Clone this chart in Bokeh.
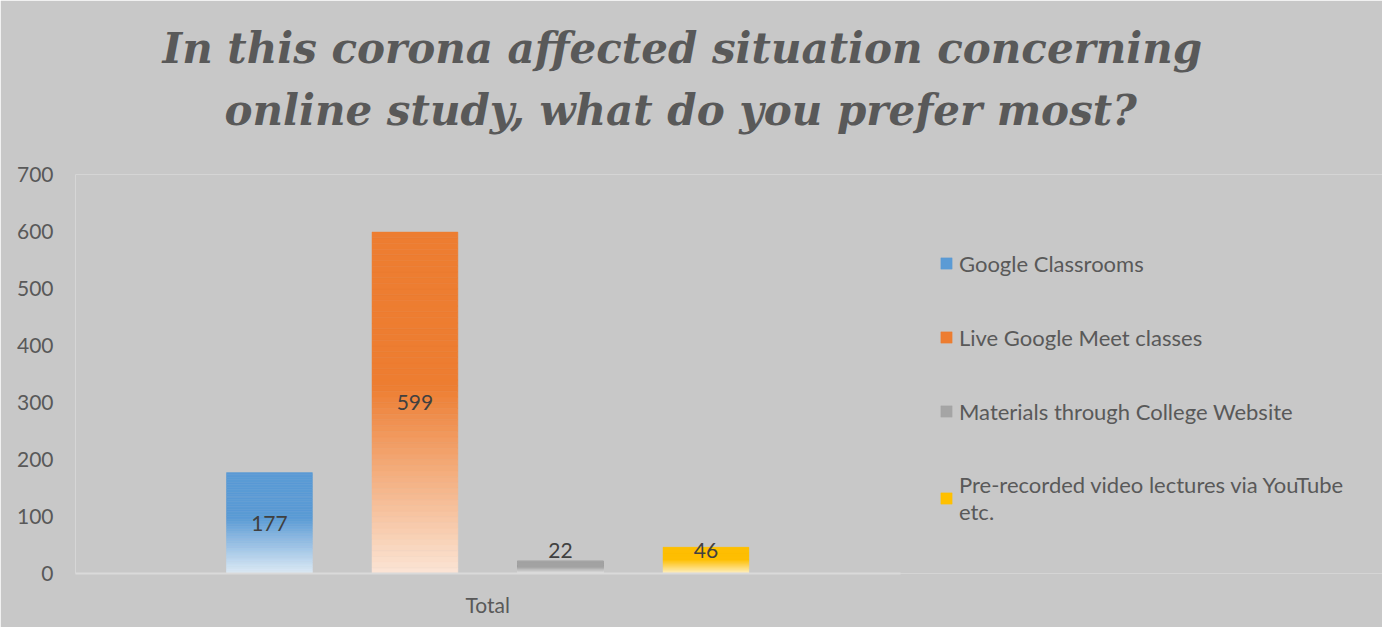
import numpy as np
from bokeh.plotting import figure
from bokeh.models import (Range1d, ColumnDataSource, Legend, LegendItem, Title,
                          FixedTicker, LinearAxis, LabelSet)
from bokeh.embed import file_html
from bokeh.resources import INLINE
from bokeh.core.properties import value

# ---------------- data ----------------
category = "Total"
series = ["Google Classrooms",
          "Live Google Meet classes",
          "Materials through College Website",
          "Pre-recorded video lectures via YouTube\netc."]
values = [177, 599, 22, 46]
colors = ["#5b9bd5", "#ed7d31", "#a5a5a5", "#ffc000"]
light_colors = ["#deebf7", "#fbe5d6", "#ededed", "#fff2cc"]
title_lines = ["In this corona affected situation concerning",
               "online study, what do you prefer most?"]
y_ticks = [0, 100, 200, 300, 400, 500, 600, 700]

# ---------------- style ----------------
BG = "#c8c8c8"
TXT = "#595959"
FONT = "Lato"
N_SLICES = 60
BAR_W = 0.59
SOLID_PART = 0.45   # top fraction of each bar in solid colour
LABEL_MIN = 40      # labels of tiny bars sit at least here
X_START, X_END = -1.333, 7.65     # frame spans plot area + legend area
PLOT_AREA_END = 4.337             # where the category axis line stops

p = figure(width=1382, height=627, output_backend="svg", toolbar_location=None,
           x_range=Range1d(X_START, X_END), y_range=Range1d(0, 700),
           min_border_left=75, min_border_right=0, min_border_top=174,
           min_border_bottom=54)
p.background_fill_color = BG
p.border_fill_color = BG
p.outline_line_color = None
p.grid.visible = False
p.xaxis.visible = False
p.yaxis.visible = False


def hex2rgb(h):
    return np.array([int(h[i:i + 2], 16) for i in (1, 3, 5)], dtype=float)


def rgb2hex(c):
    return "#%02x%02x%02x" % tuple(int(round(v)) for v in c)


legend_items = []
for i, (name, v, c, lc) in enumerate(zip(series, values, colors, light_colors)):
    k = np.arange(N_SLICES)
    bottoms = v * k / N_SLICES
    tops = v * (k + 1) / N_SLICES
    f_top = 1 - (k + 0.5) / N_SLICES  # distance from top as fraction
    t = np.clip((f_top - SOLID_PART) / (1 - SOLID_PART), 0, 1)
    c1, c2 = hex2rgb(c), hex2rgb(lc)
    cols = [rgb2hex(c1 + (c2 - c1) * tt) for tt in t]
    src = ColumnDataSource(dict(left=[i - BAR_W / 2] * N_SLICES,
                                right=[i + BAR_W / 2] * N_SLICES,
                                bottom=bottoms, top=tops, color=cols))
    r = p.quad(left="left", right="right", bottom="bottom", top="top",
               fill_color="color", line_color="color", line_width=0.5, source=src)
    legend_items.append(LegendItem(label=name, renderers=[r], index=N_SLICES - 1))

# data labels
lab_src = ColumnDataSource(dict(x=list(range(len(values))),
                                y=[max(v / 2, LABEL_MIN) for v in values],
                                text=[str(v) for v in values]))
p.add_layout(LabelSet(x="x", y="y", text="text", source=lab_src,
                      text_align="center", text_baseline="middle",
                      text_font=value(FONT), text_font_size="21px",
                      text_color="#404040"))

# axes
yax = LinearAxis(ticker=FixedTicker(ticks=y_ticks))
yax.axis_line_color = None
yax.major_tick_line_color = None
yax.minor_tick_line_color = None
yax.major_label_standoff = 16
yax.major_label_text_font = FONT
yax.major_label_text_font_size = "21px"
yax.major_label_text_color = TXT
p.add_layout(yax, "left")

center = (len(series) - 1) / 2
xax = LinearAxis(ticker=FixedTicker(ticks=[center]),
                 major_label_overrides={center: category},
                 bounds=(X_START, PLOT_AREA_END))
xax.axis_line_color = "#dadada"
xax.axis_line_width = 2
xax.major_tick_line_color = None
xax.minor_tick_line_color = None
xax.major_label_standoff = 12
xax.major_label_text_font = FONT
xax.major_label_text_font_size = "21px"
xax.major_label_text_color = TXT
p.add_layout(xax, "below")

# legend (inside the frame, to the right of the plot area)
legend = Legend(items=legend_items, location=(864, 48),
                glyph_width=14, glyph_height=14, label_standoff=6,
                label_text_font=FONT, label_text_font_size="22px",
                label_text_color=TXT, spacing=46, label_height=28,
                padding=0, margin=0, background_fill_alpha=0,
                border_line_color=None)
p.add_layout(legend, "center")

# title: a blank spacer next to the frame, then line 2, then line 1 on top
p.add_layout(Title(text=" ", standoff=21, text_font="DejaVu Serif",
                   text_font_size="10px", text_color=BG), "above")
for line, off in zip(title_lines[::-1], [149, 87]):
    p.add_layout(Title(text=line, align="left", offset=off, standoff=11,
                       text_font="DejaVu Serif", text_font_style="bold italic",
                       text_font_size="42px", text_color=TXT), "above")

open("out.html", "w").write(file_html(p, INLINE))
